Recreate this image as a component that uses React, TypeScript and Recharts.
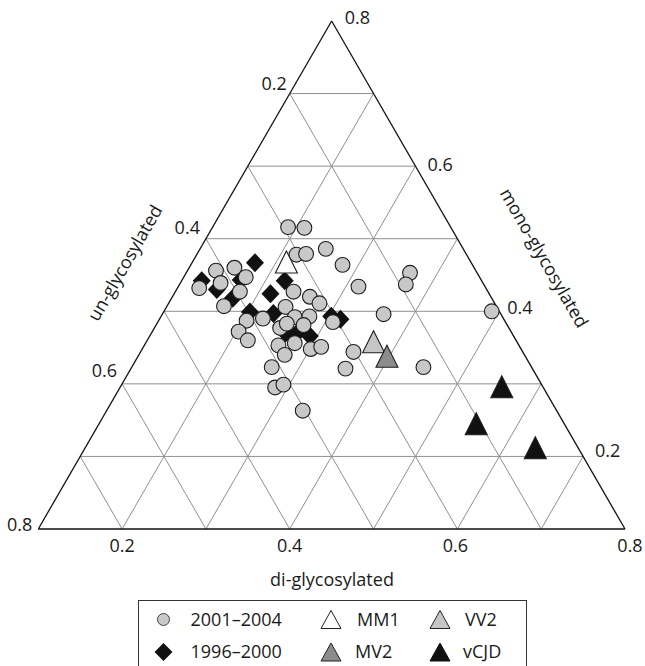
import React from "react";
import { ScatterChart, Scatter, XAxis, YAxis, ReferenceLine } from "recharts";

type Tern = { un: number; mono: number; di: number };
const T = (un: number, mono: number, di: number): Tern => ({ un, mono, di });

// Ternary data: un-glycosylated, mono-glycosylated, di-glycosylated fractions
const samples2001_2004: Tern[] = [
  T(0.294, 0.516, 0.19), T(0.275, 0.515, 0.21), T(0.303, 0.478, 0.219), T(0.291, 0.479, 0.23),
  T(0.264, 0.486, 0.25), T(0.255, 0.464, 0.281), T(0.251, 0.434, 0.315), T(0.18, 0.453, 0.367),
  T(0.193, 0.437, 0.37), T(0.109, 0.4, 0.491), T(0.41, 0.456, 0.134), T(0.386, 0.46, 0.154),
  T(0.379, 0.447, 0.174), T(0.413, 0.439, 0.148), T(0.442, 0.432, 0.126), T(0.396, 0.427, 0.177),
  T(0.425, 0.407, 0.168), T(0.332, 0.427, 0.241), T(0.316, 0.42, 0.264), T(0.309, 0.411, 0.28),
  T(0.352, 0.406, 0.242), T(0.348, 0.392, 0.26), T(0.33, 0.393, 0.277), T(0.387, 0.39, 0.223),
  T(0.408, 0.387, 0.205), T(0.425, 0.372, 0.203), T(0.42, 0.36, 0.22), T(0.373, 0.377, 0.25),
  T(0.362, 0.383, 0.255), T(0.343, 0.381, 0.276), T(0.306, 0.385, 0.309), T(0.387, 0.353, 0.26),
  T(0.366, 0.356, 0.278), T(0.386, 0.34, 0.274), T(0.351, 0.348, 0.301), T(0.337, 0.351, 0.312),
  T(0.41, 0.323, 0.267), T(0.323, 0.321, 0.356), T(0.302, 0.344, 0.354), T(0.42, 0.295, 0.285),
  T(0.408, 0.299, 0.293), T(0.403, 0.263, 0.334), T(0.24, 0.396, 0.364), T(0.229, 0.323, 0.448),
];

const samples1996_2000: Tern[] = [
  T(0.358, 0.467, 0.175), T(0.434, 0.442, 0.124), T(0.422, 0.43, 0.148), T(0.409, 0.418, 0.173),
  T(0.335, 0.442, 0.223), T(0.361, 0.424, 0.215), T(0.398, 0.399, 0.203), T(0.371, 0.397, 0.232),
  T(0.37, 0.37, 0.26), T(0.356, 0.37, 0.274), T(0.343, 0.366, 0.291), T(0.304, 0.393, 0.303),
  T(0.295, 0.389, 0.316), T(0.387, 0.443, 0.17),
];

const mm1: Tern[] = [T(0.32, 0.468, 0.212)];
const vv2: Tern[] = [T(0.271, 0.358, 0.371)];
const mv2: Tern[] = [T(0.265, 0.338, 0.397)];
const vcjd: Tern[] = [T(0.149, 0.296, 0.555), T(0.205, 0.245, 0.55), T(0.151, 0.212, 0.637)];

const gridTicks = [0.2, 0.3, 0.4, 0.5, 0.6, 0.7];
const unTickLabels = ["0.2", "0.4", "0.6", "0.8"];
const monoTickLabels = ["0.8", "0.6", "0.4", "0.2"];
const diTickLabels = ["0.2", "0.4", "0.6", "0.8"];

const MIN = 0.1;
const SPAN = 0.7;
const SQ = Math.sqrt(3) / 2;

const toXY = (p: { mono: number; di: number }) => {
  const wm = (p.mono - MIN) / SPAN;
  const wd = (p.di - MIN) / SPAN;
  return { x: wd + wm / 2, y: wm * SQ };
};

const W = 645;
const H = 666;
const M = { top: 21, right: 20, bottom: 137, left: 38.3 };
const PW = W - M.left - M.right;
const PH = H - M.top - M.bottom;
const px = (x: number) => M.left + x * PW;
const py = (y: number) => M.top + PH - (y / SQ) * PH;
const pt = (p: { mono: number; di: number }) => {
  const q = toXY(p);
  return { X: px(q.x), Y: py(q.y) };
};

const FONT = "'Open Sans', 'Noto Sans', sans-serif";
const INK = "#1a1a1a";

const CircleShape = (props: any) => (
  <circle cx={props.cx} cy={props.cy} r={7.4} fill="#c8c8c8" stroke="#1e1e1e" strokeWidth={1.1} />
);
const DiamondShape = (props: any) => {
  const { cx, cy } = props;
  return <path d={`M${cx},${cy - 9.5}L${cx + 9},${cy}L${cx},${cy + 9.5}L${cx - 9},${cy}Z`} fill="#111" />;
};
const triPath = (cx: number, cy: number, w: number, h: number) =>
  `M${cx},${cy - h / 2}L${cx + w / 2},${cy + h / 2}L${cx - w / 2},${cy + h / 2}Z`;
const makeTri = (fill: string) => (props: any) => (
  <path d={triPath(props.cx, props.cy, 22, 22)} fill={fill} stroke="#1e1e1e" strokeWidth={1.1} />
);

const segments = (() => {
  const segs: { a: { mono: number; di: number }; b: { mono: number; di: number }; grid: boolean }[] = [];
  gridTicks.forEach((t) => {
    segs.push({ a: { mono: t, di: MIN }, b: { mono: t, di: 1 - t - MIN }, grid: true });
    segs.push({ a: { mono: MIN, di: t }, b: { mono: 1 - t - MIN, di: t }, grid: true });
    segs.push({ a: { mono: MIN, di: 1 - t - MIN }, b: { mono: 1 - t - MIN, di: MIN }, grid: true });
  });
  const A = { mono: MIN, di: MIN };
  const B = { mono: MIN + SPAN, di: MIN };
  const C = { mono: MIN, di: MIN + SPAN };
  segs.push({ a: A, b: B, grid: false }, { a: B, b: C, grid: false }, { a: C, b: A, grid: false });
  return segs;
})();

export default function App() {
  // tick label anchor points along the sides
  const unPts = [0.2, 0.4, 0.6, 0.8].map((u) => pt({ mono: 1 - u - MIN, di: MIN }));
  const monoPts = [0.8, 0.6, 0.4, 0.2].map((m) => pt({ mono: m, di: 1 - m - MIN }));
  const diPts = [0.2, 0.4, 0.6, 0.8].map((d) => pt({ mono: MIN, di: d }));
  const unOff = [[-3, -4], [-6, -5], [-5, -7], [-6, 2]];
  const monoOff = [[13, 3], [12, 5], [8, 3], [12, 1]];
  const diOff = [[0, 23], [0, 23], [-2, 23], [5, 23]];

  return (
    <div style={{ position: "absolute", left: 0, top: 0, width: W, height: H, background: "#fff" }}>
      <ScatterChart width={W} height={H} margin={M}>
        <XAxis type="number" dataKey="x" domain={[0, 1]} hide allowDataOverflow />
        <YAxis type="number" dataKey="y" domain={[0, SQ]} hide allowDataOverflow />
        {segments.map((s, i) => {
          const a = toXY(s.a);
          const b = toXY(s.b);
          return (
            <ReferenceLine
              key={i}
              segment={[{ x: a.x, y: a.y }, { x: b.x, y: b.y }]}
              stroke={s.grid ? "#8f8f8f" : "#111"}
              strokeWidth={s.grid ? 1 : 1.3}
              ifOverflow="visible"
            />
          );
        })}
        <Scatter data={samples1996_2000.map(toXY)} shape={DiamondShape} isAnimationActive={false} />
        <Scatter data={samples2001_2004.map(toXY)} shape={CircleShape} isAnimationActive={false} />
        <Scatter data={mm1.map(toXY)} shape={makeTri("#ffffff")} isAnimationActive={false} />
        <Scatter data={vv2.map(toXY)} shape={makeTri("#c6c6c6")} isAnimationActive={false} />
        <Scatter data={mv2.map(toXY)} shape={makeTri("#8c8c8c")} isAnimationActive={false} />
        <Scatter data={vcjd.map(toXY)} shape={makeTri("#111111")} isAnimationActive={false} />
      </ScatterChart>
      <svg
        width={W}
        height={H}
        style={{ position: "absolute", left: 0, top: 0, pointerEvents: "none" }}
        fontFamily={FONT}
        fontSize={18}
        fill={INK}
      >
        {unTickLabels.map((l, i) => (
          <text key={"u" + i} x={unPts[i].X + unOff[i][0]} y={unPts[i].Y + unOff[i][1]} textAnchor="end">
            {l}
          </text>
        ))}
        {monoTickLabels.map((l, i) => (
          <text key={"m" + i} x={monoPts[i].X + monoOff[i][0]} y={monoPts[i].Y + monoOff[i][1]} textAnchor="start">
            {l}
          </text>
        ))}
        {diTickLabels.map((l, i) => (
          <text key={"d" + i} x={diPts[i].X + diOff[i][0]} y={diPts[i].Y + diOff[i][1]} textAnchor="middle">
            {l}
          </text>
        ))}
        <text x={332} y={586} textAnchor="middle">di-glycosylated</text>
        <text x={125} y={263} textAnchor="middle" dy="0.35em" transform="rotate(-60 125 263)">
          un-glycosylated
        </text>
        <text x={544} y={258} textAnchor="middle" dy="0.35em" transform="rotate(60 544 258)">
          mono-glycosylated
        </text>

        {/* legend */}
        <rect x={138.5} y={600.5} width={388} height={80} fill="none" stroke="#333" strokeWidth={1} />
        <circle cx={163.5} cy={619.5} r={6} fill="#c8c8c8" stroke="#444" strokeWidth={1} />
        <text x={190.5} y={626}>2001–2004</text>
        <path d={`M163.5,643L172.5,652L163.5,661L154.5,652Z`} fill="#111" />
        <text x={190.5} y={658}>1996–2000</text>
        <path d={triPath(331, 619.5, 20, 18)} fill="#fff" stroke="#222" strokeWidth={1} />
        <text x={357} y={626}>MM1</text>
        <path d={triPath(331, 652, 20, 18)} fill="#8c8c8c" stroke="#222" strokeWidth={1} />
        <text x={355} y={658}>MV2</text>
        <path d={triPath(440, 619.5, 20, 18)} fill="#c6c6c6" stroke="#222" strokeWidth={1} />
        <text x={465} y={626}>VV2</text>
        <path d={triPath(440, 652, 20, 18)} fill="#111" stroke="#111" strokeWidth={1} />
        <text x={463} y={658}>vCJD</text>
      </svg>
    </div>
  );
}
